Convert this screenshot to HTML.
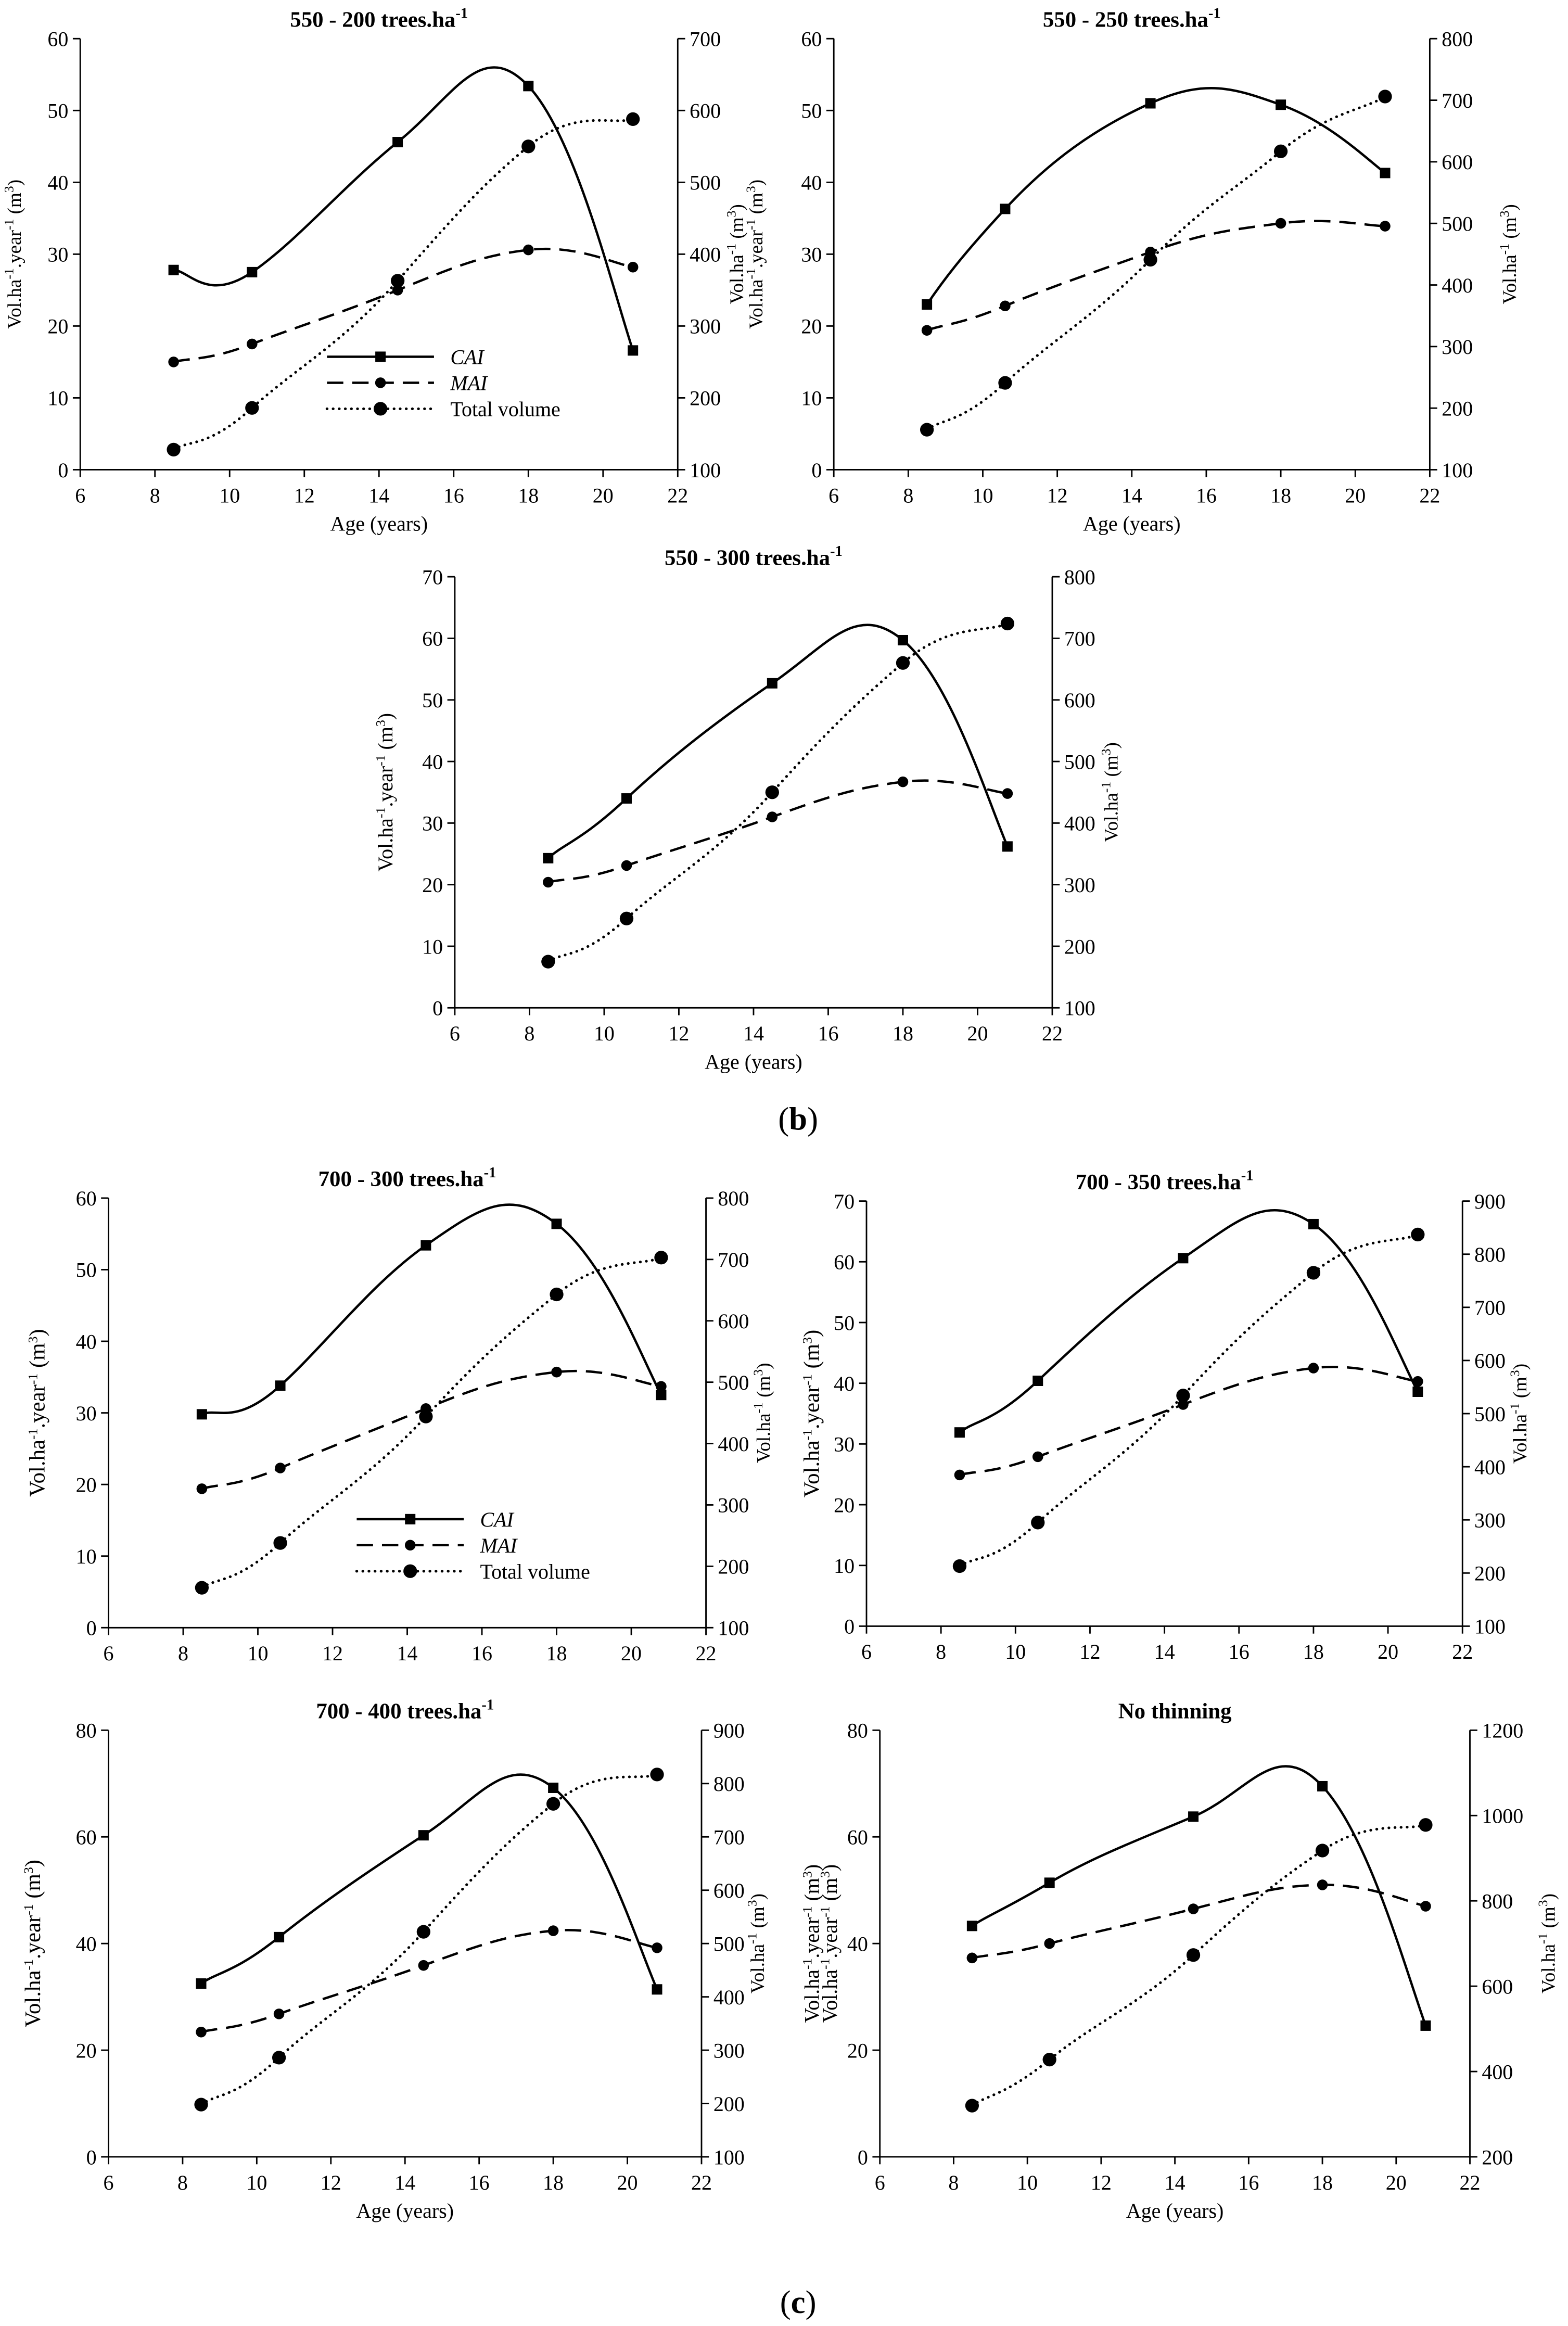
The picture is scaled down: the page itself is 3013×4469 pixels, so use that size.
<!DOCTYPE html>
<html><head><meta charset="utf-8"><style>
html,body{margin:0;padding:0;background:#fff}
svg{display:block}
text{font-family:"Liberation Serif",serif;fill:#000}
</style></head><body>
<svg id="fig" width="3013" height="4469" viewBox="0 0 1055 1564.8" preserveAspectRatio="none" xmlns="http://www.w3.org/2000/svg">
<text x="537" y="760" font-size="22" text-anchor="middle">(<tspan font-weight="bold">b</tspan>)</text>
<text x="537" y="1556" font-size="22" text-anchor="middle">(<tspan font-weight="bold">c</tspan>)</text>
</svg>
<script>
const ages = [8.5, 10.6, 14.5, 18, 20.8];
const xTicks = [6, 8, 10, 12, 14, 16, 18, 20, 22];
const titles = ["550 - 200 trees.ha", "550 - 250 trees.ha", "550 - 300 trees.ha", "700 - 300 trees.ha", "700 - 350 trees.ha", "700 - 400 trees.ha", "No thinning"];
const caiP1 = [27.8, 27.5, 45.6, 53.4, 16.6];
const maiP1 = [15, 17.5, 25, 30.6, 28.2];
const volP1 = [128, 186, 363, 550, 588];
const caiP2 = [23, 36.3, 51, 50.8, 41.3];
const maiP2 = [19.4, 22.8, 30.3, 34.3, 33.9];
const volP2 = [165, 241, 441, 617, 706];
const caiP3 = [24.3, 34, 52.7, 59.7, 26.2];
const maiP3 = [20.4, 23.1, 31, 36.7, 34.8];
const volP3 = [175, 245, 450, 660, 724];
const caiP4 = [29.8, 33.8, 53.4, 56.4, 32.5];
const maiP4 = [19.4, 22.3, 30.6, 35.7, 33.7];
const volP4 = [165, 238, 444, 643, 703];
const caiP5 = [31.9, 40.4, 60.6, 66.2, 38.6];
const maiP5 = [24.9, 27.9, 36.5, 42.5, 40.3];
const volP5 = [213, 295, 534, 765, 837];
const caiP6 = [32.5, 41.2, 60.3, 69.2, 31.4];
const maiP6 = [23.4, 26.8, 35.9, 42.4, 39.2];
const volP6 = [198, 286, 522, 762, 817];
const caiP7 = [43.3, 51.4, 63.8, 69.5, 24.6];
const maiP7 = [37.3, 40, 46.5, 51, 47];
const volP7 = [320, 428, 673, 918, 978];
const leftMax = [60, 60, 70, 60, 70, 80, 80];
const leftStep = [10, 10, 10, 10, 10, 20, 20];
const rightMin = [100, 100, 100, 100, 100, 100, 200];
const rightMax = [700, 800, 800, 800, 900, 900, 1200];
const rightStep = [100, 100, 100, 100, 100, 100, 200];

const layout = [
 {x0:54,x1:456,yT:26,yB:316,lt:[14,513],rt:[500],xl:true,leg:[220,240],fs:13},
 {x0:561,x1:962,yT:26,yB:316,lt:[],rt:[1020],xl:true,fs:13},
 {x0:306,x1:708,yT:388,yB:678,lt:[264],rt:[752],xl:true,fs:14},
 {x0:73,x1:475,yT:806,yB:1095,lt:[30],rt:[518],xl:false,leg:[240,1022],fs:15},
 {x0:583,x1:984,yT:808,yB:1094,lt:[551],rt:[1027],xl:false,fs:15},
 {x0:73,x1:472,yT:1164,yB:1451,lt:[27],rt:[514],xl:true,fs:15},
 {x0:592,x1:989,yT:1164,yB:1451,lt:[551,563],rt:[1046],xl:true,fs:14}
];
const cais=[caiP1,caiP2,caiP3,caiP4,caiP5,caiP6,caiP7];
const mais=[maiP1,maiP2,maiP3,maiP4,maiP5,maiP6,maiP7];
const vols=[volP1,volP2,volP3,volP4,volP5,volP6,volP7];
const NS="http://www.w3.org/2000/svg";
const svg=document.getElementById('fig');
function mk(tag,attrs,parent){const e=document.createElementNS(NS,tag);for(const k in attrs)e.setAttribute(k,attrs[k]);parent.appendChild(e);return e;}
function smooth(pts){
 let d="M"+pts[0][0]+","+pts[0][1];
 for(let i=0;i<pts.length-1;i++){
  const p0=pts[Math.max(0,i-1)],p1=pts[i],p2=pts[i+1],p3=pts[Math.min(pts.length-1,i+2)];
  const t=1/5;
  const c1=[p1[0]+(p2[0]-p0[0])*t,p1[1]+(p2[1]-p0[1])*t*1.2];
  const c2=[p2[0]-(p3[0]-p1[0])*t,p2[1]-(p3[1]-p1[1])*t*1.2];
  d+=" C"+c1[0]+","+c1[1]+" "+c2[0]+","+c2[1]+" "+p2[0]+","+p2[1];
 }
 return d;
}
function ylabel(g,x,cy,txt2,fs){
 const t=mk('text',{transform:`translate(${x},${cy}) rotate(-90)`,'font-size':fs,'text-anchor':'middle'},g);
 
 
 t.innerHTML=txt2;
}
const leftTxt='Vol.ha<tspan dy="-5" font-size="9">-1</tspan><tspan dy="5">.year</tspan><tspan dy="-5" font-size="9">-1</tspan><tspan dy="5"> (m</tspan><tspan dy="-5" font-size="9">3</tspan><tspan dy="5">)</tspan>';
const rightTxt='Vol.ha<tspan dy="-5" font-size="9">-1</tspan><tspan dy="5"> (m</tspan><tspan dy="-5" font-size="9">3</tspan><tspan dy="5">)</tspan>';
layout.forEach((L,p)=>{
 const g=mk('g',{},svg);
 
 
 const xs=v=>L.x0+(v-6)/16*(L.x1-L.x0);
 const yl=v=>L.yB-v/leftMax[p]*(L.yB-L.yT);
 const yr=v=>L.yB-(v-rightMin[p])/(rightMax[p]-rightMin[p])*(L.yB-L.yT);
 const ax={stroke:'#000','stroke-width':1,fill:'none'};
 const a1=mk('line',Object.assign({x1:L.x0,y1:L.yT,x2:L.x0,y2:L.yB},ax),g);
 
 const a2=mk('line',Object.assign({x1:L.x1,y1:L.yT,x2:L.x1,y2:L.yB},ax),g);
 
 const a3=mk('line',Object.assign({x1:L.x0,y1:L.yB,x2:L.x1,y2:L.yB},ax),g);
 
 xTicks.forEach(v=>{
  mk('line',Object.assign({x1:xs(v),y1:L.yB,x2:xs(v),y2:L.yB+5},ax),g);
  const t=mk('text',{x:xs(v),y:L.yB+22,'font-size':14,'text-anchor':'middle'},g);
  
  t.textContent=v;
 });
 for(let v=0;v<=leftMax[p];v+=leftStep[p]){
  mk('line',Object.assign({x1:L.x0-5,y1:yl(v),x2:L.x0,y2:yl(v)},ax),g);
  const t=mk('text',{x:L.x0-8,y:yl(v)+5,'font-size':14,'text-anchor':'end'},g);
  
  t.textContent=v;
 }
 for(let v=rightMin[p];v<=rightMax[p];v+=rightStep[p]){
  mk('line',Object.assign({x1:L.x1,y1:yr(v),x2:L.x1+5,y2:yr(v)},ax),g);
  const t=mk('text',{x:L.x1+8,y:yr(v)+5,'font-size':14,'text-anchor':'start'},g);
  
  t.textContent=v;
 }
 const tt=mk('text',{x:(L.x0+L.x1)/2,y:L.yT-8,'font-size':15,'font-weight':'bold','text-anchor':'middle'},g);
 
 tt.innerHTML=titles[p]+(p<6?'<tspan dy="-6" font-size="10">-1</tspan>':'');
 const cy=(L.yT+L.yB)/2;
 L.lt.forEach(x=>ylabel(g,x,cy,leftTxt,L.fs));
 L.rt.forEach(x=>ylabel(g,x,cy,rightTxt,13));
 if(L.xl){const t=mk('text',{x:(L.x0+L.x1)/2,y:L.yB+41,'font-size':14,'text-anchor':'middle'},g);
  t.textContent='Age (years)';}
 const pc=ages.map((a,i)=>[xs(a),yl(cais[p][i])]);
 const pm=ages.map((a,i)=>[xs(a),yl(mais[p][i])]);
 const pv=ages.map((a,i)=>[xs(a),yr(vols[p][i])]);
 const l1=mk('path',{d:smooth(pc),stroke:'#000','stroke-width':1.6,fill:'none'},g);
 
 const l2=mk('path',{d:smooth(pm),stroke:'#000','stroke-width':1.6,fill:'none','stroke-dasharray':'11,6'},g);
 
 const l3=mk('path',{d:smooth(pv),stroke:'#000','stroke-width':1.8,fill:'none','stroke-dasharray':'0.1,4','stroke-linecap':'round'},g);
 
 pc.forEach(q=>{const m=mk('rect',{x:q[0]-3.5,y:q[1]-3.5,width:7,height:7,fill:'#000'},g);
  });
 pm.forEach(q=>{const m=mk('circle',{cx:q[0],cy:q[1],r:3.6,fill:'#000'},g);
  });
 pv.forEach(q=>{const m=mk('circle',{cx:q[0],cy:q[1],r:4.6,fill:'#000'},g);
  });
 if(L.leg){
  const lg=mk('g',{},g);
  
  const [lx,ly]=L.leg;
  const names=['CAI','MAI','Total volume'];
  names.forEach((n,i)=>{
   const y=ly+i*17.5;
   const st={stroke:'#000','stroke-width':1.6};
   if(i===1) st['stroke-dasharray']='11,6';
   if(i===2){st['stroke-dasharray']='0.1,4';st['stroke-linecap']='round';st['stroke-width']=1.8;}
   mk('line',Object.assign({x1:lx,y1:y,x2:lx+72,y2:y},st),lg);
   if(i===0) mk('rect',{x:lx+36-3.5,y:y-3.5,width:7,height:7},lg);
   else mk('circle',{cx:lx+36,cy:y,r:i===1?3.6:4.6},lg);
   const t=mk('text',{x:lx+83,y:y+5,'font-size':14,'font-style':i<2?'italic':'normal'},lg);
   
   t.textContent=n;
  });
 }
});
</script>
</body></html>
